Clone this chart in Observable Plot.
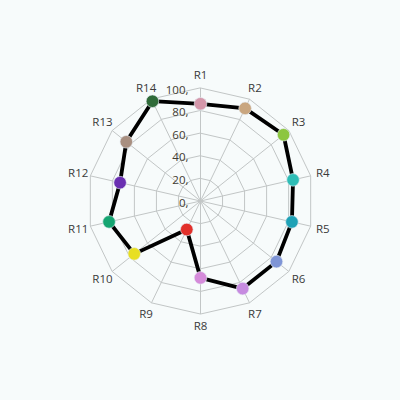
<!DOCTYPE html>
<html>
<head>
<meta charset="utf-8">
<script src="https://cdn.jsdelivr.net/npm/d3@7"></script>
<script src="https://cdn.jsdelivr.net/npm/@observablehq/plot@0.6"></script>
<style>
  html, body { margin: 0; padding: 0; background: #f7fbfb; }
  #chart { width: 400px; height: 400px; }
</style>
</head>
<body>
<div id="chart"></div>
<script>
const categories = ["R1","R2","R3","R4","R5","R6","R7","R8","R9","R10","R11","R12","R13","R14"];
const values = [86, 91, 94, 84, 83, 86, 86, 68, 28, 75, 83, 73, 84, 98];
const pointColors = ["#d497aa","#c9a67f","#8cc63f","#2ebdb6","#1fa2b6","#7f95d6","#c68be0","#d58bda","#e2302a","#e8df22","#15a571","#6a2fb1","#a88f80","#2f6b39"];
const ringTicks = [0, 20, 40, 60, 80, 100];
const tickLabels = ["0,", "20,", "40,", "60,", "80,", "100,"];
const labelRadius = 111;

const n = categories.length;
const angle = i => (i * 2 * Math.PI) / n;
const px = (i, r) => r * Math.sin(angle(i));
const py = (i, r) => r * Math.cos(angle(i));

const rings = [];
for (const t of ringTicks.filter(t => t > 0)) {
  for (let i = 0; i < n; i++) rings.push({ring: t, x: px(i, t), y: py(i, t)});
}
const spokes = categories.map((c, i) => ({x1: 0, y1: 0, x2: px(i, 100), y2: py(i, 100)}));
const series = categories.map((c, i) => ({cat: c, v: values[i], color: pointColors[i], x: px(i, values[i]), y: py(i, values[i])}));
const labels = categories.map((c, i) => ({cat: c, x: px(i, labelRadius), y: py(i, labelRadius)}));
const tickData = ringTicks.map((t, i) => ({t, label: tickLabels[i]}));

const chart = Plot.plot({
  width: 400,
  height: 400,
  margin: 0,
  style: {background: "#f7fbfb", fontFamily: "'Open Sans', sans-serif"},
  x: {domain: [-177, 177], axis: null},
  y: {domain: [-176.5, 177.4], axis: null},
  marks: [
    Plot.line(rings, {x: "x", y: "y", z: "ring", curve: "linear-closed", stroke: "#c2c6c6", strokeWidth: 1}),
    Plot.link(spokes, {x1: "x1", y1: "y1", x2: "x2", y2: "y2", stroke: "#c2c6c6", strokeWidth: 1}),
    Plot.text(tickData, {x: 0, y: "t", text: "label", textAnchor: "end", dx: -12, dy: 2, fontSize: 11.5, fill: "#3e3a30"}),
    Plot.line(series, {x: "x", y: "y", curve: "linear-closed", stroke: "#000", strokeWidth: 3.8}),
    Plot.dot(series, {x: "x", y: "y", r: 6.3, fill: "color", stroke: "#e8eef4", strokeWidth: 0.8, strokeOpacity: 0.8}),
    Plot.text(labels, {x: "x", y: "y", text: "cat", fontSize: 11.5, fill: "#3a3a3a"})
  ]
});
document.getElementById("chart").appendChild(chart);
</script>
</body>
</html>
